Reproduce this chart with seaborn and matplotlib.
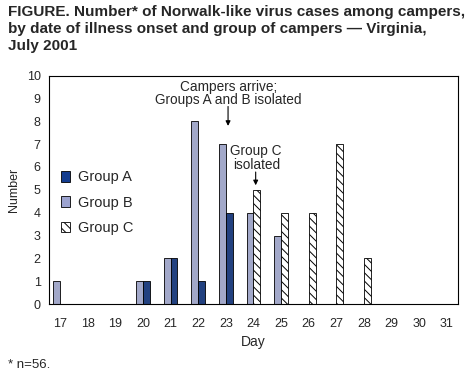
import pandas as pd
import seaborn as sns
import matplotlib.pyplot as plt
from matplotlib.patches import Patch

# ---------------------- data ---------------------- #
days = list(range(17, 32))
b_days = [17, 20, 21, 22, 23, 24, 25]
b_cases = [1, 1, 2, 8, 7, 4, 3]
a_days = [20, 21, 22, 23]
a_cases = [1, 2, 1, 4]
c_days = [24, 25, 26, 27, 28]
c_cases = [5, 4, 4, 7, 2]

col_a = '#133c8f'
col_b = '#9ca3cf'
bar_w = 0.25

# ---------------------- plot ---------------------- #
sns.set_style('white')
plt.rcParams['font.family'] = ['Liberation Sans', 'DejaVu Sans']
plt.rcParams['hatch.linewidth'] = 0.7

fig = plt.figure(figsize=(4.76, 3.89), dpi=100)
ax = fig.add_axes([0.103, 0.2185, 0.859, 0.587])

# groups A and B dodged side by side
ab = pd.concat([
    pd.DataFrame({'day': b_days, 'n': b_cases, 'group': 'Group B'}),
    pd.DataFrame({'day': a_days, 'n': a_cases, 'group': 'Group A'}),
])
sns.barplot(data=ab, x='day', y='n', hue='group',
            hue_order=['Group B', 'Group A'],
            palette={'Group B': col_b, 'Group A': col_a},
            native_scale=True, width=2 * bar_w, dodge=True,
            edgecolor='black', linewidth=0.6, legend=False, ax=ax)

# group C sits in the right-hand slot, like group A
c = pd.DataFrame({'day': [d + bar_w / 2 for d in c_days], 'n': c_cases})
sns.barplot(data=c, x='day', y='n', native_scale=True, width=bar_w,
            color='white', edgecolor='black', linewidth=0.6,
            hatch='\\\\\\\\', ax=ax)

ax.set_xlim(16.6, 31.4)
ax.set_ylim(0, 10)
ax.set_xticks(days)
ax.set_xticklabels([str(d) for d in days], fontsize=9)
ax.set_yticks(range(0, 11))
ax.set_yticklabels([str(v) for v in range(0, 11)], fontsize=9)
ax.tick_params(direction='out', length=4, width=0.8, color='black', pad=2)
ax.tick_params(axis='x', pad=6)
for s in ax.spines.values():
    s.set_visible(True)
    s.set_color('black')
    s.set_linewidth(0.8)
ax.set_xlabel('Day', fontsize=10, labelpad=4)
ax.set_ylabel('Number', fontsize=9, labelpad=5)

# annotations
ax.annotate('', xy=(23.08, 7.8), xytext=(23.08, 8.65),
            arrowprops=dict(arrowstyle='-|>', color='black', lw=0.8,
                            mutation_scale=7, shrinkA=0, shrinkB=0))
ax.text(23.1, 8.62, 'Campers arrive;\nGroups A and B isolated',
        ha='center', va='bottom', fontsize=9.8, linespacing=0.95)
ax.annotate('', xy=(24.08, 5.2), xytext=(24.08, 5.78),
            arrowprops=dict(arrowstyle='-|>', color='black', lw=0.8,
                            mutation_scale=7, shrinkA=0, shrinkB=0))
ax.text(24.1, 5.8, 'Group C\nisolated',
        ha='center', va='bottom', fontsize=9.8, linespacing=0.95)

handles = [Patch(facecolor=col_a, edgecolor='black', linewidth=0.6),
           Patch(facecolor=col_b, edgecolor='black', linewidth=0.6),
           Patch(facecolor='white', edgecolor='black', linewidth=0.6,
                 hatch='\\\\\\\\')]
ax.legend(handles, ['Group A', 'Group B', 'Group C'], loc='upper left',
          bbox_to_anchor=(0.029, 0.585), frameon=False, fontsize=10.5,
          handlelength=0.62, handleheight=0.75, handletextpad=0.55,
          labelspacing=0.78, borderaxespad=0, borderpad=0)

fig.text(0.017, 0.986,
         'FIGURE. Number* of Norwalk-like virus cases among campers,\n'
         'by date of illness onset and group of campers \u2014 Virginia,\n'
         'July 2001', ha='left', va='top', fontsize=11, fontweight='bold',
         linespacing=1.25)
fig.text(0.017, 0.062, '* n=56.', ha='left', va='center', fontsize=9.5)

fig.savefig('out.png', dpi=100)
